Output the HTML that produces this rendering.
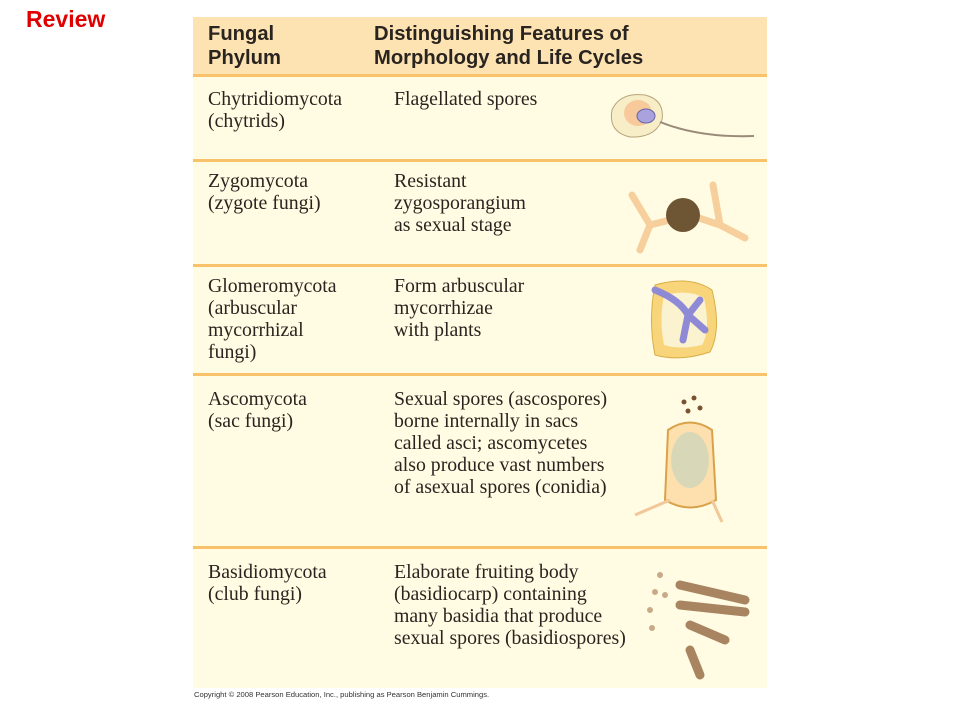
<!DOCTYPE html>
<html><head><style>
body{margin:0;width:960px;height:720px;background:#fff;position:relative;overflow:hidden;font-family:"Liberation Serif",serif;}
.t{position:absolute;color:#2a2420;font-size:19.8px;line-height:22px;}
.h{position:absolute;font-family:"Liberation Sans",sans-serif;font-weight:bold;font-size:20.2px;line-height:24px;color:#2a2420;}
.ln{position:absolute;left:193px;width:574px;height:3px;background:#f7c26a;}
</style></head><body>
<div style="position:absolute;left:26px;top:6px;color:#e00000;font:bold 23px 'Liberation Sans',sans-serif;">Review</div>
<div style="position:absolute;left:193px;top:17px;width:574px;height:671px;background:#fffce3;"></div>
<div style="position:absolute;left:193px;top:17px;width:574px;height:58px;background:#fde3b2;"></div>
<div class="ln" style="top:74px"></div>
<div class="ln" style="top:159px"></div>
<div class="ln" style="top:264px"></div>
<div class="ln" style="top:373px"></div>
<div class="ln" style="top:546px"></div>
<div class="h" style="left:208px;top:22px">Fungal<br>Phylum</div>
<div class="h" style="left:374px;top:22px">Distinguishing Features of<br>Morphology and Life Cycles</div>
<div class="t" style="left:208px;top:88px">Chytridiomycota<br>(chytrids)</div>
<div class="t" style="left:394px;top:88px">Flagellated spores</div>
<div class="t" style="left:208px;top:170px">Zygomycota<br>(zygote fungi)</div>
<div class="t" style="left:394px;top:170px">Resistant<br>zygosporangium<br>as sexual stage</div>
<div class="t" style="left:208px;top:275px">Glomeromycota<br>(arbuscular<br>mycorrhizal<br>fungi)</div>
<div class="t" style="left:394px;top:275px">Form arbuscular<br>mycorrhizae<br>with plants</div>
<div class="t" style="left:208px;top:388px">Ascomycota<br>(sac fungi)</div>
<div class="t" style="left:394px;top:388px">Sexual spores (ascospores)<br>borne internally in sacs<br>called asci; ascomycetes<br>also produce vast numbers<br>of asexual spores (conidia)</div>
<div class="t" style="left:208px;top:561px">Basidiomycota<br>(club fungi)</div>
<div class="t" style="left:394px;top:561px">Elaborate fruiting body<br>(basidiocarp) containing<br>many basidia that produce<br>sexual spores (basidiospores)</div>
<svg style="position:absolute;left:0;top:0" width="960" height="720">
<path d="M612 110 Q620 92 645 95 Q665 100 662 120 Q655 138 630 137 Q608 132 612 110Z" fill="#f7eec8" stroke="#b8a47a"/>
<ellipse cx="638" cy="113" rx="14" ry="13" fill="#f8c99a"/>
<ellipse cx="646" cy="116" rx="9" ry="7" fill="#a9a3dd" stroke="#6a63a8"/>
<path d="M660 122 Q700 138 754 136" stroke="#9a8a7a" stroke-width="2" fill="none"/>
<path d="M632 195 L650 225 L640 250 M650 225 L690 215 L720 225 L745 238 M720 225 L713 185" stroke="#f6cf9c" stroke-width="7" fill="none" stroke-linecap="round"/>
<circle cx="683" cy="215" r="17" fill="#6e5533"/>
<path d="M655 285 Q690 275 712 290 Q722 330 710 352 Q680 362 655 355 Q648 320 655 285Z" fill="#f8d57a" stroke="#d9ad48"/>
<path d="M664 295 Q690 289 704 298 Q711 330 702 345 Q680 350 664 345 Q659 320 664 295Z" fill="#fbf2d0"/>
<path d="M655 290 Q680 300 688 315 L700 300 M688 315 L683 340 M688 315 L705 330" stroke="#8f8ad6" stroke-width="7" fill="none" stroke-linecap="round"/>
<path d="M668 430 Q690 415 712 430 L716 500 Q690 515 665 500Z" fill="#fde0ad" stroke="#d9a24a" stroke-width="2"/>
<ellipse cx="690" cy="460" rx="19" ry="28" fill="#d8d8b8"/>
<path d="M670 500 L635 515 M712 500 L722 522" stroke="#f2c89a" stroke-width="3"/>
<g fill="#7a5230"><circle cx="684" cy="402" r="2.5"/><circle cx="694" cy="398" r="2.5"/><circle cx="700" cy="408" r="2.5"/><circle cx="688" cy="411" r="2.5"/></g>
<g stroke="#a88460" stroke-width="9" stroke-linecap="round"><path d="M680 585 L745 600"/><path d="M680 605 L745 612"/><path d="M690 625 L725 640"/><path d="M690 650 L700 675"/></g>
<g fill="#c8aa88"><circle cx="660" cy="575" r="3"/><circle cx="655" cy="592" r="3"/><circle cx="650" cy="610" r="3"/><circle cx="652" cy="628" r="3"/><circle cx="665" cy="595" r="3"/></g>
</svg>
<div style="position:absolute;left:194px;top:690px;font:7.6px 'Liberation Sans',sans-serif;color:#333;">Copyright © 2008 Pearson Education, Inc., publishing as Pearson Benjamin Cummings.</div>
</body></html>
